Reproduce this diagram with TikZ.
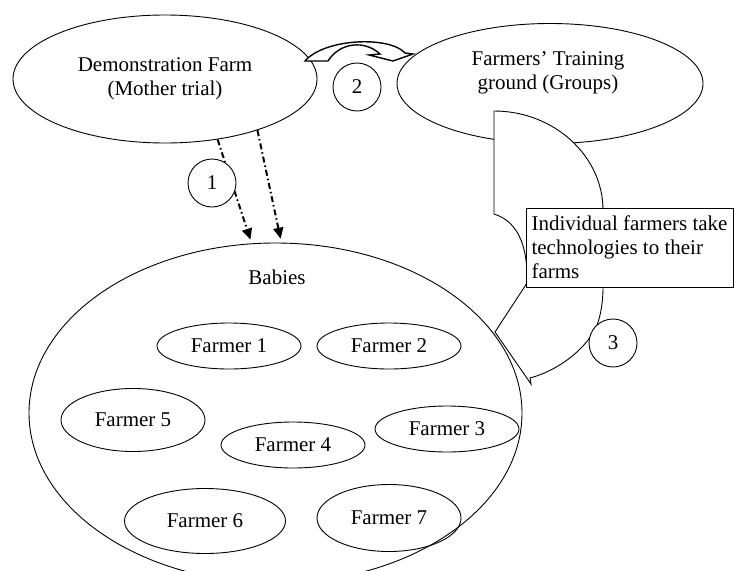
\documentclass[tikz,border=0pt]{standalone}
\usepackage{fontspec}
\setmainfont{Liberation Serif}
\usetikzlibrary{shapes.geometric,positioning,arrows.meta}

\begin{document}
\begin{tikzpicture}[x=1pt,y=-1pt,on grid,font=\fontsize{21}{24}\selectfont,
    farm/.style={ellipse,draw,line width=0.9pt,inner sep=0pt},
    baby/.style={farm,minimum width=144pt,minimum height=46pt},
    num/.style={circle,draw,fill=white,line width=0.9pt,minimum size=48pt,inner sep=0pt},
    move/.style={-{Triangle[length=11pt,width=10pt]},line width=2pt,
        dash pattern=on 6pt off 3pt on 1.5pt off 3pt,shorten >=4pt},
    ribbon/.style={draw,fill=white,line width=0.9pt}]
   \clip (0,0) rectangle (735,570);
   \node[farm,minimum width=304pt,minimum height=128pt,align=center] (mother) at (165,79) {Demonstration Farm\\(Mother trial)};
   \node[farm,minimum width=306pt,minimum height=120pt] (train) at (550,83.5) {};
   \node[align=center] (trainlbl) at (548,73) {Farmers' Training\\ground (Groups)};
   % curved arrow 3
   \draw[ribbon] (494,111) .. controls (554,111) and (603,156) .. (603,210) -- (603,288)
        .. controls (603,300) and (601,315) .. (597,325)
        .. controls (588,347) and (560,370) .. (530,378) -- (531,384) -- (495,332) -- (527,283)
        .. controls (528,250) and (520,222) .. (494,214) -- cycle;
   \node[draw,fill=white,line width=0.9pt,minimum width=207pt,minimum height=79pt,align=left] (note) at (629.5,247.5)
        {Individual farmers take\\technologies to their\\farms};
   \node[num] (n3) at (613,343) {3};
   \node[farm,minimum width=493pt,minimum height=340pt] (babies) at (275.5,413) {};
   \node (babylbl) at (277,277) {Babies};
   \node[baby] (f1) at (229,346) {Farmer 1};
   \node[baby,right=160pt of f1] (f2) {Farmer 2};
   \node[baby,below right=83pt and 58pt of f2] (f3) {Farmer 3};
   \node[baby,below right=99pt and 64pt of f1] (f4) {Farmer 4};
   \node[baby,minimum height=63pt,below left=74pt and 96pt of f1] (f5) {Farmer 5};
   \node[baby,minimum width=161pt,minimum height=65pt,below right=101pt and 72pt of f5] (f6) {Farmer 6};
   \node[baby,minimum height=67pt,below=172pt of f2] (f7) {Farmer 7};
   \draw[move] (mother.-49) -- (babies.98);
   \draw[move] (mother.-29) -- (babies.88);
   \node[num] (n1) at (212,183) {1};
   % curved arrow 2
   \draw[ribbon,line width=1.4pt] (305,61) .. controls (325,38) and (390,36) .. (405,53) -- (413,54) -- (393,61) -- (369,55) -- (380,54)
        .. controls (365,40) and (340,42) .. (328,61) -- cycle;
   \node[num] (n2) at (357,87) {2};
\end{tikzpicture}
\end{document}
